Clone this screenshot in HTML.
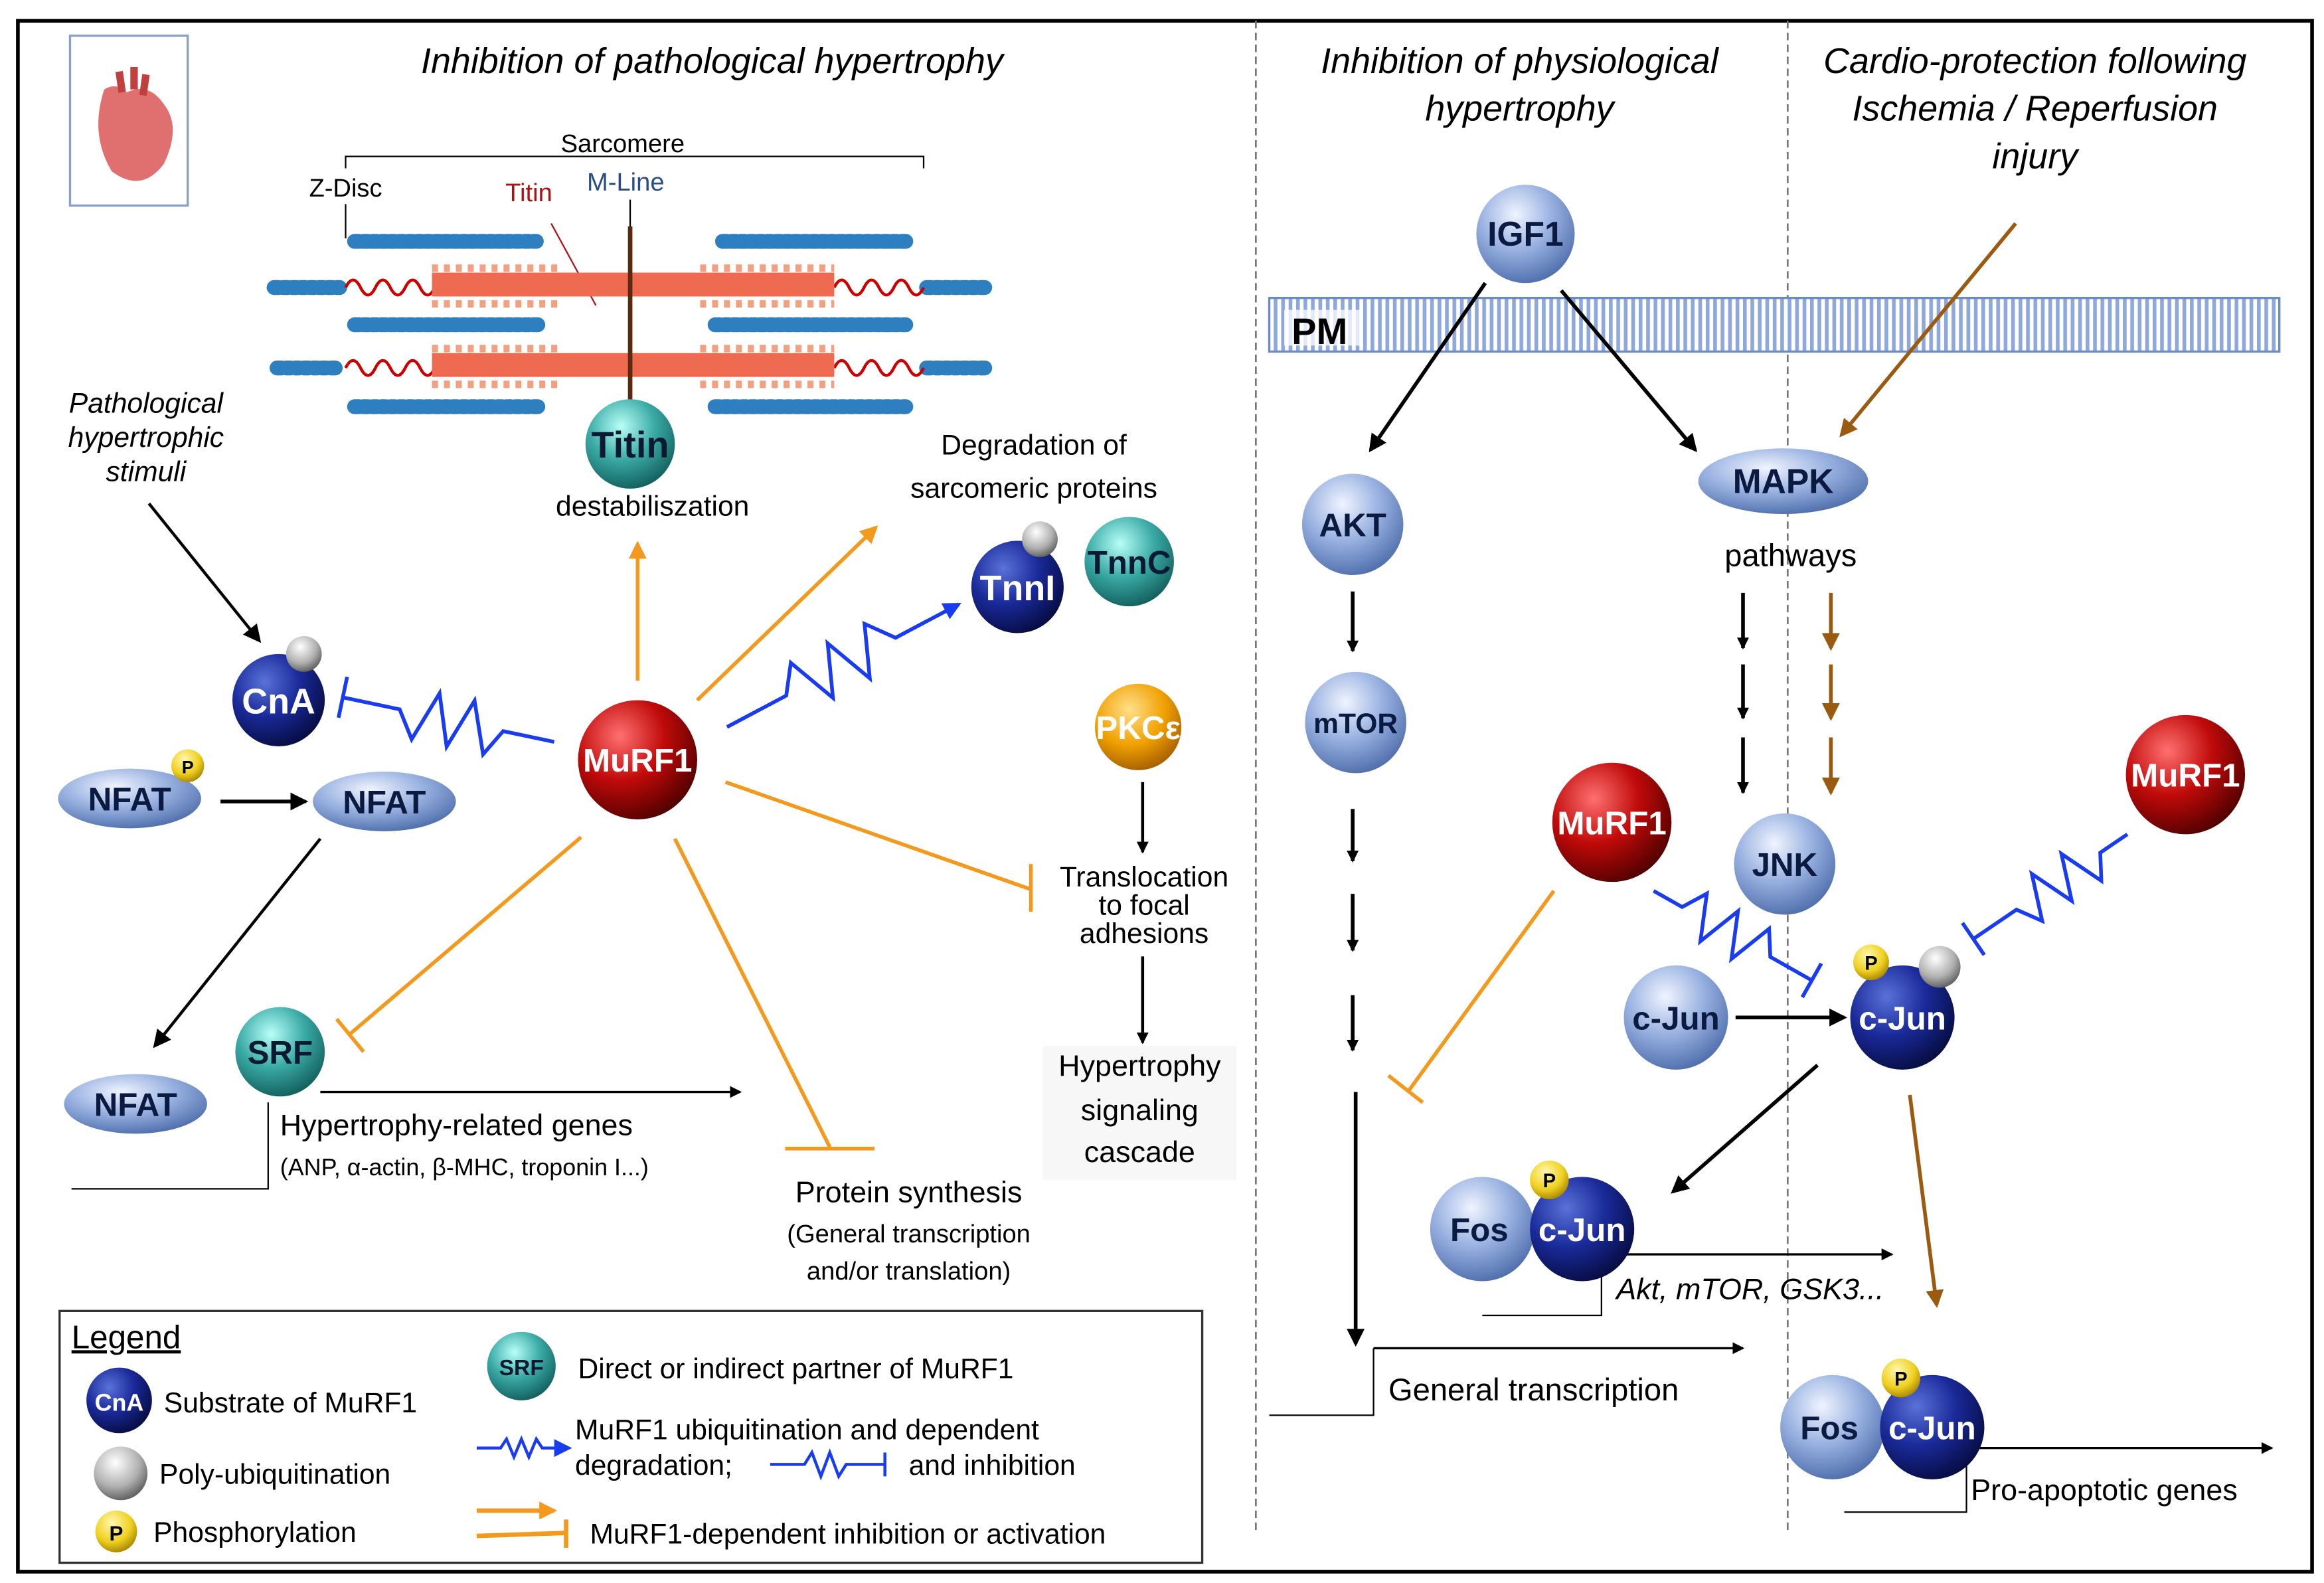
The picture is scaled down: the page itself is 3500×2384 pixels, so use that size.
<!DOCTYPE html>
<html><head><meta charset="utf-8"><style>
html,body{margin:0;padding:0;background:#fff;}
svg{display:block;}
text{font-family:"Liberation Sans",sans-serif;}
</style></head><body>
<svg width="3500" height="2384" viewBox="0 0 1560 1062.6" preserveAspectRatio="none" xmlns="http://www.w3.org/2000/svg">
<defs>
<radialGradient id="gN" cx="35%" cy="30%" r="75%"><stop offset="0" stop-color="#5a72d8"/><stop offset="0.5" stop-color="#1a2a9a"/><stop offset="1" stop-color="#060c40"/></radialGradient>
<radialGradient id="gR" cx="35%" cy="30%" r="75%"><stop offset="0" stop-color="#ff7070"/><stop offset="0.5" stop-color="#c00a0a"/><stop offset="1" stop-color="#500000"/></radialGradient>
<radialGradient id="gT" cx="40%" cy="30%" r="75%"><stop offset="0" stop-color="#b8fff8"/><stop offset="0.5" stop-color="#3aaaa5"/><stop offset="1" stop-color="#0f5a58"/></radialGradient>
<radialGradient id="gL" cx="40%" cy="30%" r="75%"><stop offset="0" stop-color="#f0f4ff"/><stop offset="0.5" stop-color="#97b0e0"/><stop offset="1" stop-color="#4a6aa8"/></radialGradient>
<radialGradient id="gO" cx="40%" cy="30%" r="75%"><stop offset="0" stop-color="#ffe08a"/><stop offset="0.55" stop-color="#f0a000"/><stop offset="1" stop-color="#a05a00"/></radialGradient>
<radialGradient id="gG" cx="40%" cy="30%" r="75%"><stop offset="0" stop-color="#ffffff"/><stop offset="0.6" stop-color="#b0b0b0"/><stop offset="1" stop-color="#555"/></radialGradient>
<radialGradient id="gY" cx="40%" cy="30%" r="75%"><stop offset="0" stop-color="#fff8b0"/><stop offset="0.6" stop-color="#f0d020"/><stop offset="1" stop-color="#a08000"/></radialGradient>
<pattern id="pm" width="5" height="10" patternUnits="userSpaceOnUse"><rect width="5" height="10" fill="#fff"/><rect width="2.5" height="10" fill="#8ea8dc"/></pattern>
<marker id="ak" markerWidth="8" markerHeight="8" refX="7" refY="4" orient="auto" markerUnits="userSpaceOnUse"><path d="M0,0 L8,4 L0,8 z" fill="#000"/></marker>
<marker id="ak2" markerWidth="12" markerHeight="12" refX="10" refY="6" orient="auto" markerUnits="userSpaceOnUse"><path d="M0,0 L12,6 L0,12 z" fill="#000"/></marker>
<marker id="ao" markerWidth="12" markerHeight="12" refX="10" refY="6" orient="auto" markerUnits="userSpaceOnUse"><path d="M0,0 L12,6 L0,12 z" fill="#f39a1e"/></marker>
<marker id="ab" markerWidth="12" markerHeight="12" refX="10" refY="6" orient="auto" markerUnits="userSpaceOnUse"><path d="M0,0 L12,6 L0,12 z" fill="#1a3cf0"/></marker>
<marker id="abr" markerWidth="12" markerHeight="12" refX="10" refY="6" orient="auto" markerUnits="userSpaceOnUse"><path d="M0,0 L12,6 L0,12 z" fill="#9a5a10"/></marker>
</defs>
<rect x="0" y="0" width="1560" height="1063" fill="#fff"/>
<rect x="12" y="14" width="1540" height="1041" fill="none" stroke="#000" stroke-width="2.5"/>
<line x1="843" y1="14" x2="843" y2="1030" stroke="#777" stroke-width="1.2" stroke-dasharray="5,3"/>
<line x1="1200" y1="14" x2="1200" y2="1030" stroke="#777" stroke-width="1.2" stroke-dasharray="5,3"/>

<!-- titles -->
<g font-style="italic" font-size="24" text-anchor="middle" fill="#000">
<text x="478" y="49">Inhibition of pathological hypertrophy</text>
<text x="1020" y="49">Inhibition of physiological</text>
<text x="1020" y="81">hypertrophy</text>
<text x="1366" y="49">Cardio-protection following</text>
<text x="1366" y="81">Ischemia / Reperfusion</text>
<text x="1366" y="113">injury</text>
</g>

<!-- heart -->
<rect x="47" y="24" width="79" height="114" fill="#fff" stroke="#8aa0c8" stroke-width="1.5"/>
<path d="M70,60 Q60,90 75,115 Q95,130 110,110 Q122,85 110,70 Q100,55 85,62 Q78,55 70,60z" fill="#e07070"/>
<path d="M80,48 L82,62 M90,45 L90,60 M98,50 L96,64" stroke="#c04040" stroke-width="5"/>

<!-- sarcomere -->
<path d="M232,113 L232,105 L620,105 L620,113" fill="none" stroke="#000" stroke-width="1"/>
<text x="418" y="102" font-size="17" text-anchor="middle">Sarcomere</text>
<text x="232" y="132" font-size="17" text-anchor="middle">Z-Disc</text>
<line x1="232" y1="137" x2="232" y2="160" stroke="#000" stroke-width="1"/>
<text x="355" y="135" font-size="17" text-anchor="middle" fill="#b01010">Titin</text>
<line x1="370" y1="150" x2="400" y2="205" stroke="#b01010" stroke-width="1"/>
<text x="420" y="128" font-size="17" text-anchor="middle" fill="#2a4a8a">M-Line</text>
<line x1="423" y1="134" x2="423" y2="152" stroke="#000" stroke-width="1"/>
<g stroke="#2e7fc0" stroke-width="10" stroke-linecap="round" stroke-dasharray="3,3">
<line x1="238" y1="162" x2="360" y2="162"/><line x1="485" y1="162" x2="608" y2="162"/>
<line x1="238" y1="218" x2="362" y2="218"/><line x1="480" y1="218" x2="608" y2="218"/>
<line x1="238" y1="273" x2="362" y2="273"/><line x1="480" y1="273" x2="608" y2="273"/>
<line x1="184" y1="193" x2="228" y2="193"/><line x1="622" y1="193" x2="662" y2="193"/>
<line x1="186" y1="247" x2="228" y2="247"/><line x1="622" y1="247" x2="662" y2="247"/>
</g>
<g fill="none" stroke="#cc0000" stroke-width="2">
<path d="M232,193 q5,-10 10,0 t10,0 t10,0 t10,0 t10,0 t10,0 t10,0 M560,193 q5,-10 10,0 t10,0 t10,0 t10,0 t10,0 t10,0"/>
<path d="M232,247 q5,-10 10,0 t10,0 t10,0 t10,0 t10,0 t10,0 t10,0 M560,247 q5,-10 10,0 t10,0 t10,0 t10,0 t10,0 t10,0"/>
</g>
<g fill="#ee6a50">
<rect x="290" y="183" width="270" height="16"/><rect x="290" y="237" width="270" height="16"/>
</g>
<g stroke="#f2a080" stroke-width="5" stroke-dasharray="4,4">
<line x1="290" y1="180" x2="375" y2="180"/><line x1="290" y1="204" x2="375" y2="204"/>
<line x1="470" y1="180" x2="560" y2="180"/><line x1="470" y1="204" x2="560" y2="204"/>
<line x1="290" y1="234" x2="375" y2="234"/><line x1="290" y1="258" x2="375" y2="258"/>
<line x1="470" y1="234" x2="560" y2="234"/><line x1="470" y1="258" x2="560" y2="258"/>
</g>
<line x1="423" y1="152" x2="423" y2="275" stroke="#5a2a10" stroke-width="3"/>

<!-- left panel -->
<g font-style="italic" font-size="19" text-anchor="middle">
<text x="98" y="277">Pathological</text><text x="98" y="300">hypertrophic</text><text x="98" y="323">stimuli</text>
</g>
<line x1="100" y1="338" x2="174" y2="430" stroke="#000" stroke-width="2" marker-end="url(#ak2)"/>

<!-- orange -->
<g stroke="#f39a1e" stroke-width="2.5" fill="none">
<line x1="428" y1="457" x2="428" y2="365" marker-end="url(#ao)"/>
<line x1="468" y1="470" x2="588" y2="354" marker-end="url(#ao)"/>
<line x1="390" y1="562" x2="235" y2="694"/><line x1="226" y1="684" x2="244" y2="706"/>
<line x1="453" y1="563" x2="557" y2="770"/><line x1="527" y1="771" x2="587" y2="771"/>
<line x1="487" y1="525" x2="692" y2="597"/><line x1="692" y1="580" x2="692" y2="612"/>
<line x1="1043" y1="598" x2="945" y2="733"/><line x1="932" y1="722" x2="955" y2="740"/>
</g>
<!-- blue zigzags -->
<g stroke="#1a3cf0" stroke-width="2.5" fill="none">
<g transform="translate(372,498) rotate(191.9)"><path d="M0,0 L35,0 L45,-18 L58,16 L70,-18 L82,16 L94,-18 L106,0 L145,0"/><line x1="145" y1="-14" x2="145" y2="14"/></g>
<g transform="translate(488,488) rotate(-27.9)"><path d="M0,0 L45,0 L58,-18 L72,16 L86,-18 L100,16 L114,-18 L128,0 L176,0" marker-end="url(#ab)"/></g>
<g transform="translate(1110,598) rotate(29.5)"><path d="M0,0 L22,0 L32,-16 L44,14 L56,-16 L68,14 L80,-16 L90,0 L122,0"/><line x1="122" y1="-13" x2="122" y2="13"/></g>
<g transform="translate(1428,560) rotate(145.8)"><path d="M0,0 L22,0 L32,-16 L44,14 L56,-16 L68,14 L80,-16 L90,0 L125,0"/><line x1="125" y1="-13" x2="125" y2="13"/></g>
</g>

<!-- NFAT etc -->
<line x1="148" y1="538" x2="205" y2="538" stroke="#000" stroke-width="2.5" marker-end="url(#ak2)"/>
<line x1="215" y1="563" x2="104" y2="702" stroke="#000" stroke-width="2" marker-end="url(#ak2)"/>
<line x1="215" y1="733" x2="497" y2="733" stroke="#000" stroke-width="1.5" marker-end="url(#ak)"/>
<path d="M48,798 L180,798 L180,740" fill="none" stroke="#000" stroke-width="1"/>

<g font-weight="bold" text-anchor="middle" font-size="22">
<ellipse cx="87" cy="536" rx="48" ry="20" fill="url(#gL)"/><text x="87" y="544" fill="#0a1a40">NFAT</text>
<ellipse cx="258" cy="538" rx="48" ry="20" fill="url(#gL)"/><text x="258" y="546" fill="#0a1a40">NFAT</text>
<ellipse cx="91" cy="741" rx="48" ry="20" fill="url(#gL)"/><text x="91" y="749" fill="#0a1a40">NFAT</text>
<circle cx="126" cy="514" r="11" fill="url(#gY)"/><text x="126" y="519" font-size="12" fill="#000">P</text>
<circle cx="187" cy="470" r="31" fill="url(#gN)"/><text x="187" y="479" fill="#fff" font-size="24">CnA</text>
<circle cx="204" cy="439" r="12" fill="url(#gG)"/>
<circle cx="188" cy="706" r="30" fill="url(#gT)"/><text x="188" y="714" fill="#0a1a30">SRF</text>
<circle cx="428" cy="510" r="40" fill="url(#gR)"/><text x="428" y="518" fill="#fff">MuRF1</text>
<circle cx="423" cy="298" r="30" fill="url(#gT)"/><text x="423" y="307" fill="#0a1a30" font-size="25">Titin</text>
<circle cx="683" cy="394" r="31" fill="url(#gN)"/><text x="683" y="403" fill="#fff" font-size="24">TnnI</text>
<circle cx="698" cy="362" r="12" fill="url(#gG)"/>
<circle cx="758" cy="377" r="30" fill="url(#gT)"/><text x="758" y="385" fill="#0a1a30">TnnC</text>
<circle cx="764" cy="488" r="29" fill="url(#gO)"/><text x="764" y="496" fill="#fff">PKCε</text>
</g>
<text x="438" y="346" font-size="19" text-anchor="middle">destabiliszation</text>
<text x="694" y="305" font-size="19" text-anchor="middle">Degradation of</text>
<text x="694" y="334" font-size="19" text-anchor="middle">sarcomeric proteins</text>
<line x1="767" y1="525" x2="767" y2="572" stroke="#000" stroke-width="2" marker-end="url(#ak)"/>
<g font-size="19" text-anchor="middle"><text x="768" y="595">Translocation</text><text x="768" y="614">to focal</text><text x="768" y="633">adhesions</text></g>
<line x1="767" y1="642" x2="767" y2="700" stroke="#000" stroke-width="2" marker-end="url(#ak)"/>
<rect x="700" y="702" width="130" height="90" fill="#f7f7f7"/>
<g font-size="20" text-anchor="middle"><text x="765" y="722">Hypertrophy</text><text x="765" y="752">signaling</text><text x="765" y="780">cascade</text></g>
<text x="188" y="762" font-size="20">Hypertrophy-related genes</text>
<text x="188" y="789" font-size="16">(ANP, α-actin, β-MHC, troponin I...)</text>
<text x="610" y="807" font-size="20" text-anchor="middle">Protein synthesis</text>
<text x="610" y="834" font-size="17" text-anchor="middle">(General transcription</text>
<text x="610" y="859" font-size="17" text-anchor="middle">and/or translation)</text>

<!-- legend -->
<rect x="40" y="880" width="767" height="169" fill="#fff" stroke="#333" stroke-width="1.5"/>
<text x="48" y="905" font-size="22" text-decoration="underline">Legend</text>
<circle cx="80" cy="940" r="22" fill="url(#gN)"/><text x="80" y="947" font-size="16" font-weight="bold" fill="#fff" text-anchor="middle">CnA</text>
<text x="110" y="948" font-size="19">Substrate of MuRF1</text>
<circle cx="81" cy="989" r="18" fill="url(#gG)"/>
<text x="107" y="996" font-size="19">Poly-ubiquitination</text>
<circle cx="78" cy="1028" r="14" fill="url(#gY)"/><text x="78" y="1034" font-size="14" font-weight="bold" text-anchor="middle">P</text>
<text x="103" y="1035" font-size="19">Phosphorylation</text>
<circle cx="350" cy="917" r="23" fill="url(#gT)"/><text x="350" y="923" font-size="15" font-weight="bold" text-anchor="middle" fill="#0a1a30">SRF</text>
<text x="388" y="925" font-size="19">Direct or indirect partner of MuRF1</text>
<path d="M320,972 L336,972 L340,966 L345,978 L350,966 L355,978 L360,966 L364,972 L382,972" stroke="#1a3cf0" stroke-width="2" fill="none" marker-end="url(#ab)"/>
<text x="386" y="966" font-size="19">MuRF1 ubiquitination and dependent</text>
<text x="386" y="990" font-size="19">degradation;</text>
<path d="M517,983 L540,983 L545,975 L551,991 L557,975 L563,991 L568,983 L594,983 M594,975 L594,991" stroke="#1a3cf0" stroke-width="2" fill="none"/>
<text x="610" y="990" font-size="19">and inhibition</text>
<line x1="320" y1="1014" x2="372" y2="1014" stroke="#f39a1e" stroke-width="3" marker-end="url(#ao)"/>
<path d="M320,1031 L380,1029 M380,1020 L380,1039" stroke="#f39a1e" stroke-width="3" fill="none"/>
<text x="396" y="1036" font-size="19">MuRF1-dependent inhibition or activation</text>

<!-- right panel -->
<rect x="852" y="200" width="678" height="36" fill="url(#pm)" stroke="#6a8ac8" stroke-width="1.5"/>
<rect x="862" y="208" width="52" height="24" fill="#fff" opacity="0.75"/>
<text x="867" y="231" font-size="25" font-weight="bold">PM</text>
<line x1="997" y1="190" x2="920" y2="302" stroke="#000" stroke-width="2.5" marker-end="url(#ak2)"/>
<line x1="1048" y1="195" x2="1138" y2="302" stroke="#000" stroke-width="2.5" marker-end="url(#ak2)"/>
<line x1="1353" y1="150" x2="1236" y2="292" stroke="#9a5a10" stroke-width="2.5" marker-end="url(#abr)"/>
<text x="1202" y="380" font-size="21" text-anchor="middle">pathways</text>
<g stroke="#000" stroke-width="2.5">
<line x1="908" y1="397" x2="908" y2="437" marker-end="url(#ak)"/>
<line x1="908" y1="543" x2="908" y2="578" marker-end="url(#ak)"/>
<line x1="908" y1="600" x2="908" y2="638" marker-end="url(#ak)"/>
<line x1="908" y1="668" x2="908" y2="705" marker-end="url(#ak)"/>
<line x1="910" y1="733" x2="910" y2="902" marker-end="url(#ak2)"/>
<line x1="1170" y1="398" x2="1170" y2="435" marker-end="url(#ak)"/>
<line x1="1170" y1="446" x2="1170" y2="482" marker-end="url(#ak)"/>
<line x1="1170" y1="495" x2="1170" y2="532" marker-end="url(#ak)"/>
<line x1="1165" y1="683" x2="1238" y2="683" marker-end="url(#ak2)"/>
<line x1="1220" y1="715" x2="1123" y2="800" marker-end="url(#ak2)"/>
</g>
<g stroke="#9a5a10" stroke-width="2.5">
<line x1="1229" y1="398" x2="1229" y2="435" marker-end="url(#abr)"/>
<line x1="1229" y1="446" x2="1229" y2="482" marker-end="url(#abr)"/>
<line x1="1229" y1="495" x2="1229" y2="532" marker-end="url(#abr)"/>
<line x1="1282" y1="735" x2="1300" y2="876" marker-end="url(#abr)"/>
</g>
<line x1="1090" y1="842" x2="1270" y2="842" stroke="#000" stroke-width="1.5" marker-end="url(#ak)"/>
<path d="M995,883 L1075,883 L1075,850" fill="none" stroke="#000" stroke-width="1"/>
<text x="1085" y="872" font-size="20" font-style="italic">Akt, mTOR, GSK3...</text>
<line x1="922" y1="905" x2="1170" y2="905" stroke="#000" stroke-width="1.5" marker-end="url(#ak)"/>
<path d="M852,950 L922,950 L922,905" fill="none" stroke="#000" stroke-width="1"/>
<text x="932" y="940" font-size="21">General transcription</text>
<line x1="1325" y1="972" x2="1525" y2="972" stroke="#000" stroke-width="1.5" marker-end="url(#ak)"/>
<path d="M1238,1015 L1320,1015 L1320,980" fill="none" stroke="#000" stroke-width="1"/>
<text x="1323" y="1007" font-size="20">Pro-apoptotic genes</text>

<g font-weight="bold" text-anchor="middle" font-size="22">
<circle cx="1024" cy="157" r="33" fill="url(#gL)"/><text x="1024" y="165" fill="#0a1a40" font-size="23">IGF1</text>
<ellipse cx="1197" cy="323" rx="57" ry="22" fill="url(#gL)"/><text x="1197" y="331" fill="#0a1a40" font-size="23">MAPK</text>
<circle cx="908" cy="352" r="34" fill="url(#gL)"/><text x="908" y="360" fill="#0a1a40">AKT</text>
<circle cx="910" cy="485" r="34" fill="url(#gL)"/><text x="910" y="492" fill="#0a1a40" font-size="19">mTOR</text>
<circle cx="1198" cy="580" r="34" fill="url(#gL)"/><text x="1198" y="588" fill="#0a1a40">JNK</text>
<circle cx="1082" cy="552" r="40" fill="url(#gR)"/><text x="1082" y="560" fill="#fff">MuRF1</text>
<circle cx="1467" cy="520" r="40" fill="url(#gR)"/><text x="1467" y="528" fill="#fff">MuRF1</text>
<circle cx="1125" cy="683" r="35" fill="url(#gL)"/><text x="1125" y="691" fill="#0a1a40">c-Jun</text>
<circle cx="1277" cy="683" r="35" fill="url(#gN)"/><text x="1277" y="691" fill="#fff">c-Jun</text>
<circle cx="1256" cy="646" r="12" fill="url(#gY)"/><text x="1256" y="651" font-size="13" fill="#000">P</text>
<circle cx="1302" cy="649" r="14" fill="url(#gG)"/>
<circle cx="995" cy="825" r="35" fill="url(#gL)"/><text x="993" y="833" fill="#0a1a40">Fos</text>
<circle cx="1062" cy="825" r="35" fill="url(#gN)"/><text x="1062" y="833" fill="#fff">c-Jun</text>
<circle cx="1040" cy="792" r="13" fill="url(#gY)"/><text x="1040" y="797" font-size="13" fill="#000">P</text>
<circle cx="1230" cy="958" r="35" fill="url(#gL)"/><text x="1228" y="966" fill="#0a1a40">Fos</text>
<circle cx="1297" cy="958" r="35" fill="url(#gN)"/><text x="1297" y="966" fill="#fff">c-Jun</text>
<circle cx="1276" cy="925" r="13" fill="url(#gY)"/><text x="1276" y="930" font-size="13" fill="#000">P</text>
</g>
</svg>
</body></html>
